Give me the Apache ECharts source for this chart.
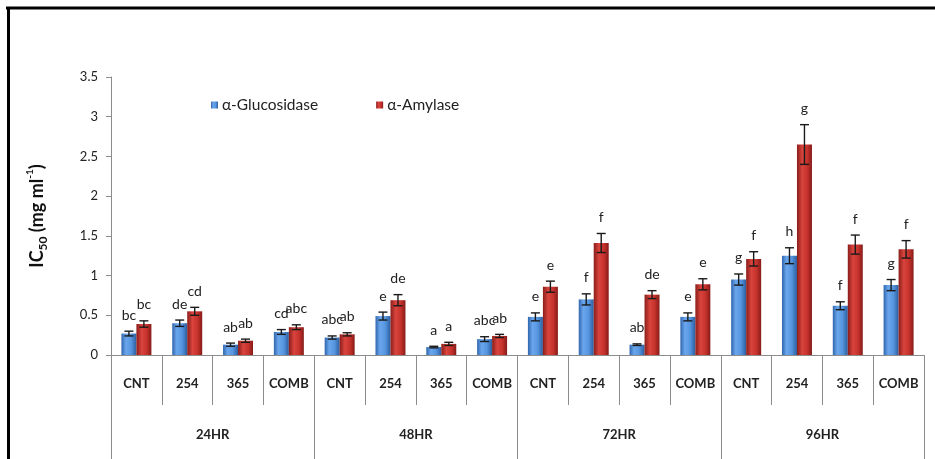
<!DOCTYPE html>
<html>
<head>
<meta charset="utf-8">
<script src="https://cdn.jsdelivr.net/npm/echarts@6/dist/echarts.min.js"></script>
<style>
  html, body { margin: 0; padding: 0; background: #fff; }
  #chart { width: 935px; height: 459px; }
</style>
</head>
<body>
<div id="chart"></div>
<script>
// Treatments within each incubation period, and the periods themselves
const treatments = ['CNT', '254', '365', 'COMB', 'CNT', '254', '365', 'COMB',
                    'CNT', '254', '365', 'COMB', 'CNT', '254', '365', 'COMB'];
const periods = ['24HR', '48HR', '72HR', '96HR'];

// IC50 means (mg/ml) and standard errors
const glucosidase = [0.27, 0.40, 0.13, 0.29, 0.22, 0.49, 0.10, 0.20,
                     0.48, 0.70, 0.13, 0.48, 0.95, 1.25, 0.62, 0.88];
const glucosidaseErr = [0.03, 0.04, 0.02, 0.03, 0.02, 0.05, 0.01, 0.03,
                        0.05, 0.07, 0.01, 0.05, 0.07, 0.10, 0.05, 0.07];
const amylase = [0.39, 0.55, 0.18, 0.35, 0.26, 0.69, 0.14, 0.24,
                 0.86, 1.41, 0.76, 0.89, 1.21, 2.65, 1.39, 1.33];
const amylaseErr = [0.04, 0.05, 0.02, 0.03, 0.02, 0.07, 0.02, 0.02,
                    0.07, 0.12, 0.05, 0.07, 0.09, 0.25, 0.12, 0.11];

// Significance letters
const glucosidaseLetters = ['bc', 'de', 'ab', 'cd', 'abc', 'e', 'a', 'abc',
                            'e', 'f', 'ab', 'e', 'g', 'h', 'f', 'g'];
const amylaseLetters = ['bc', 'cd', 'ab', 'abc', 'ab', 'de', 'a', 'ab',
                        'e', 'f', 'de', 'e', 'f', 'g', 'f', 'f'];

// y-axis ticks
const yMin = 0, yMax = 3.5, yStep = 0.5;

const FONT = 'Lato, "Open Sans", sans-serif';
const GAP = 0.41; // category gap fraction

function grad(stops) {
  return new echarts.graphic.LinearGradient(0, 0, 1, 0,
    stops.map(([o, c]) => ({ offset: o, color: c })));
}
const blueFill = grad([[0, '#2f65ad'], [0.3, '#6aa6ec'], [0.65, '#5696e0'], [1, '#2c5e9f']]);
const redFill = grad([[0, '#8a1d1a'], [0.35, '#d9443d'], [0.7, '#c5312b'], [1, '#841b18']]);

// Error bar with cap plus the significance letter above it
function errorRenderer(values, errs, letters, side) {
  return function (params, api) {
    const i = api.value(0);
    const v = values[i], e = errs[i];
    const band = api.size([1, 0])[0];
    const barW = band * (1 - GAP) / 2;
    const cx = api.coord([i, v])[0] + (side === 0 ? -barW / 2 : barW / 2);
    const yTop = api.coord([i, v + e])[1];
    const yBot = api.coord([i, Math.max(v - e, 0)])[1];
    const cap = 4.5;
    const ls = { stroke: '#1a1a1a', lineWidth: 1.4 };
    return {
      type: 'group',
      children: [
        { type: 'line', shape: { x1: cx, y1: yTop, x2: cx, y2: yBot }, style: ls },
        { type: 'line', shape: { x1: cx - cap, y1: yTop, x2: cx + cap, y2: yTop }, style: ls },
        { type: 'line', shape: { x1: cx - cap, y1: yBot, x2: cx + cap, y2: yBot }, style: ls },
        {
          type: 'text',
          style: {
            text: letters[i], x: cx, y: yTop - 9,
            textAlign: 'center', align: 'center',
            textVerticalAlign: 'bottom', verticalAlign: 'bottom',
            fontSize: 14, fontFamily: FONT, fill: '#222'
          }
        }
      ]
    };
  };
}

const chart = echarts.init(document.getElementById('chart'), null, { renderer: 'canvas' });

chart.setOption({
  backgroundColor: '#fff',
  animation: false,
  textStyle: { fontFamily: FONT },
  grid: { left: 111, right: 11, top: 77, bottom: 104, containLabel: false },
  legend: {
    data: ['α-Glucosidase', 'α-Amylase'],
    left: 206, top: 92,
    icon: 'rect', itemWidth: 7, itemHeight: 7, itemGap: 58,
    textStyle: { fontSize: 15.5, color: '#222', fontFamily: FONT, padding: [0, 0, 0, -1] }
  },
  xAxis: [
    {
      type: 'category',
      data: treatments,
      position: 'bottom',
      axisLine: { show: true, lineStyle: { color: '#8c8c8c', width: 1 } },
      axisTick: { show: true, interval: 0, length: 50, lineStyle: { color: '#8c8c8c' } },
      axisLabel: { interval: 0, margin: 22, fontSize: 13, fontWeight: 'bold', color: '#222', fontFamily: FONT }
    },
    {
      type: 'category',
      data: periods,
      position: 'bottom',
      axisLine: { show: false },
      axisTick: { show: true, interval: 0, length: 106, lineStyle: { color: '#8c8c8c' } },
      axisLabel: { interval: 0, margin: 73, fontSize: 13, fontWeight: 'bold', color: '#222', fontFamily: FONT }
    }
  ],
  yAxis: {
    type: 'value',
    min: yMin, max: yMax, interval: yStep,
    splitLine: { show: false },
    axisLine: { show: true, lineStyle: { color: '#8c8c8c' } },
    axisTick: { show: true, length: 5, lineStyle: { color: '#8c8c8c' } },
    axisLabel: { fontSize: 13, color: '#222', margin: 13, fontFamily: FONT },
    name: '{a|IC}{s|50}{a| (mg ml}{p|-1}{a|)}',
    nameLocation: 'middle',
    nameRotate: 90,
    nameGap: 62,
    nameTextStyle: {
      rich: {
        a: { fontSize: 18, fontWeight: 'bold', color: '#111', fontFamily: FONT, lineHeight: 24 },
        s: { fontSize: 12, fontWeight: 'bold', color: '#111', fontFamily: FONT, lineHeight: 24, verticalAlign: 'bottom', padding: [7, 0, 0, 0] },
        p: { fontSize: 10, fontWeight: 'bold', color: '#111', fontFamily: FONT, lineHeight: 24, verticalAlign: 'top', padding: [0, 0, 7, 0] }
      }
    }
  },
  series: [
    {
      name: 'α-Glucosidase', type: 'bar', xAxisIndex: 0,
      data: glucosidase,
      barGap: '0%', barCategoryGap: (GAP * 100) + '%',
      itemStyle: { color: blueFill },
      emphasis: { disabled: true }
    },
    {
      name: 'α-Amylase', type: 'bar', xAxisIndex: 0,
      data: amylase,
      barGap: '0%', barCategoryGap: (GAP * 100) + '%',
      itemStyle: { color: redFill },
      emphasis: { disabled: true }
    },
    {
      type: 'custom', xAxisIndex: 0, z: 5,
      renderItem: errorRenderer(glucosidase, glucosidaseErr, glucosidaseLetters, 0),
      data: glucosidase.map((v, i) => [i, v + glucosidaseErr[i]])
    },
    {
      type: 'custom', xAxisIndex: 0, z: 5,
      renderItem: errorRenderer(amylase, amylaseErr, amylaseLetters, 1),
      data: amylase.map((v, i) => [i, v + amylaseErr[i]])
    }
  ],
  graphic: [
    { type: 'line', shape: { x1: 6, y1: 8, x2: 935, y2: 8 }, style: { stroke: '#000', lineWidth: 3 } },
    { type: 'line', shape: { x1: 8.5, y1: 7, x2: 8.5, y2: 459 }, style: { stroke: '#000', lineWidth: 3 } }
  ]
});
</script>
</body>
</html>
